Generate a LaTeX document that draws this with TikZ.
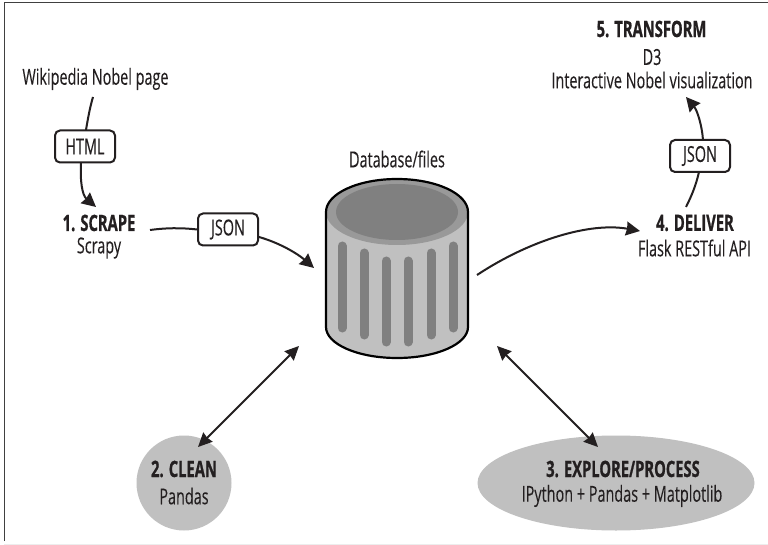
\documentclass[tikz,border=0pt]{standalone}
\usepackage{fontspec}
\setmainfont[FakeStretch=0.655,FakeBold=0.15,BoldFeatures={FakeStretch=0.655,FakeBold=0.8}]{Open Sans}
\usetikzlibrary{arrows.meta,shapes.geometric}
\definecolor{ink}{HTML}{231F20}
\definecolor{bodygray}{HTML}{C0C0C0}
\definecolor{stripegray}{HTML}{808080}
\definecolor{rimgray}{HTML}{999999}
\tikzset{
  x=1pt,y=-1pt,
  lab/.style={inner sep=0pt,font=\fontsize{22}{26}\selectfont,text=ink,align=center},
  head/.style={lab,font=\fontsize{22.5}{26}\selectfont\bfseries},
  databox/.style={lab,draw=ink,line width=2pt,rounded corners=5pt,fill=white,minimum width=60pt,minimum height=32pt},
  flow/.style={draw=ink,line width=2pt,-{Stealth[length=14pt,width=14pt,inset=1pt]}},
  plain/.style={draw=ink,line width=2pt},
  both/.style={draw=ink,line width=1.8pt,{Stealth[length=14pt,width=13pt,inset=1pt]}-{Stealth[length=14pt,width=13pt,inset=1pt]}},
  stripe/.style={draw=stripegray,line width=9pt,line cap=round},
}
\begin{document}
\begin{tikzpicture}
\useasboundingbox (0,0) rectangle (768,545);
\fill[white] (0,0) rectangle (768,545);
\draw[color=black!75,line width=1pt] (4,541) -- (4,3) -- (768,3);
\draw[color=black!7,line width=1pt] (4,544) -- (768,544);

% cylinder
\path[fill=bodygray] (326,212) -- (326,327) arc[start angle=180,end angle=360,x radius=71,y radius=-31] -- (468,212) -- cycle;
\fill[rimgray] (397,212) ellipse[x radius=71,y radius=33];
\fill[stripegray] (397,212) ellipse[x radius=61,y radius=28];
\foreach \xx/\ya/\yb in {342/246/328,364/253/335,386/261/342,408/261/342,431/253/335,453/246/328}
  \draw[stripe] (\xx,\ya) -- (\xx,\yb);
\draw[black,line width=2.2pt] (326,212) arc[start angle=180,end angle=360,x radius=71,y radius=33] -- (468,327) arc[start angle=360,end angle=180,x radius=71,y radius=-31] -- cycle;

% blobs
\node[ellipse,fill=bodygray,minimum width=95pt,minimum height=95pt,inner sep=0pt] (clean) at (184,483) {};
\node[ellipse,fill=bodygray,minimum width=277pt,minimum height=95pt,inner sep=0pt] (explore) at (616,483) {};

% texts
\node[lab] (wiki) at (95.5,79) {Wikipedia Nobel page};
\node[head] (scrape) at (99,223) {1. SCRAPE};
\node[lab] (scrapy) at (99,248) {Scrapy};
\node[lab] (db) at (397,159) {Database/files};
\node[head] (deliver) at (695,223) {4. DELIVER};
\node[lab] (flask) at (694.5,248) {Flask RESTful API};
\node[head] (transform) at (651.5,29) {5. TRANSFORM};
\node[lab] (dthree) at (652,57) {D3};
\node[lab] (viz) at (652,80) {Interactive Nobel visualization};
\node[head] (cleant) at (184,469) {2. CLEAN};
\node[lab] (pandas) at (184,496) {Pandas};
\node[head] (exploret) at (623,469) {3. EXPLORE/PROCESS};
\node[lab] (ipy) at (622,496) {IPython + Pandas + Matplotlib};

% data boxes
\node[databox] (html) at (85,146.5) {HTML};
\node[databox] (json1) at (228,229.5) {JSON};
\node[databox] (json2) at (700,156) {JSON};

% connector ends
\coordinate (a1) at (93,97);
\coordinate (a2) at (96,207);
\coordinate (b1) at (150,230);
\coordinate (b2) at (314,268);
\coordinate (c1) at (477,275);
\coordinate (c2) at (640,231);
\coordinate (d1) at (686,207);
\coordinate (d2) at (686,97);
\coordinate (e1) at (299,346);
\coordinate (e2) at (198,447);
\coordinate (f1) at (497,346);
\coordinate (f2) at (598,447);

\draw[plain] (a1) .. controls (90,107) and (88,118) .. (86,130);
\draw[flow] (81,163) .. controls (80,180) and (82,195) .. (a2);
\draw[plain] (b1) .. controls (165,228) and (180,227.5) .. (json1.west);
\draw[flow] (259,237) .. controls (280,243) and (298,254) .. (b2);
\draw[flow] (c1) .. controls (530,240) and (590,222) .. (c2);
\draw[plain] (d1) .. controls (692,195) and (696,185) .. (699,172);
\draw[flow] (703,140) .. controls (702,125) and (697,110) .. (d2);
\draw[both] (e1) -- (e2);
\draw[both] (f1) -- (f2);
\end{tikzpicture}
\end{document}
